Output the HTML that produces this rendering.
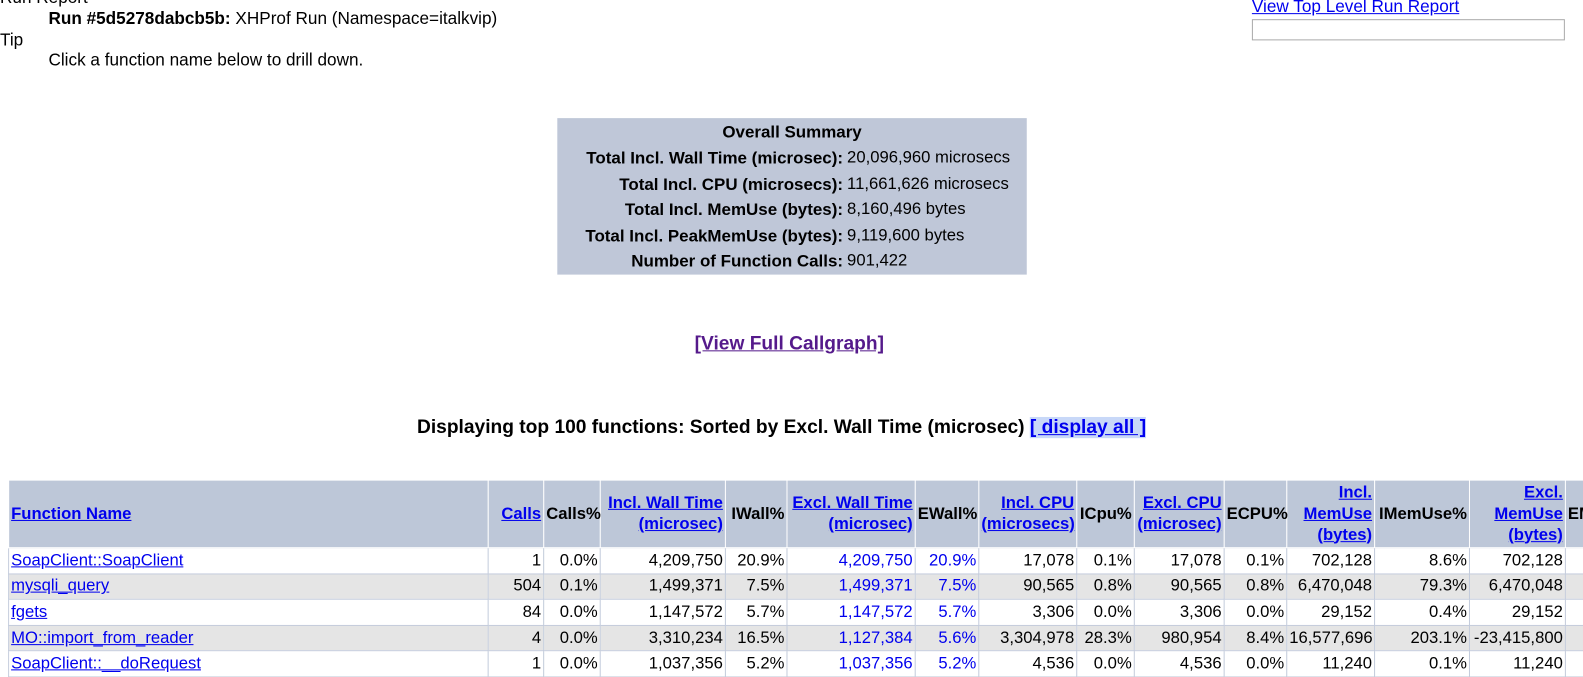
<!DOCTYPE html>
<html><head><meta charset="utf-8">
<style>
html,body{margin:0;padding:0;width:1583px;height:677px;overflow:hidden;background:#fff;}
body{font-family:"Liberation Sans",sans-serif;font-size:17px;color:#000;}
#root{position:relative;width:1568px;height:671px;overflow:hidden;transform:scale(1.0096);transform-origin:0 0;}
.a{position:absolute;white-space:nowrap;}
a{color:#0000ee;}
#sum{position:absolute;left:552px;top:117px;width:465px;height:155px;background:#bfc7d8;}
#sum .l{position:absolute;right:182px;font-weight:bold;text-align:right;white-space:nowrap;font-size:16.8px;}
#sum .v{position:absolute;left:287px;white-space:nowrap;font-size:16.5px;}
#wrap{position:absolute;left:8px;top:475px;width:1560px;height:202px;overflow:hidden;}
table{border-collapse:collapse;table-layout:fixed;font-size:16.5px;width:1602px;}
th{background:#bdc7d8;border:1px solid #fff;height:66px;padding:0 2px;font-weight:bold;line-height:21px;text-align:right;}
td{border:1px solid #c3cbdb;height:24.6px;padding:0 2px;text-align:right;white-space:nowrap;overflow:hidden;}
tr.g td{background:#e5e5e5;}
td.f,th.f{text-align:left;}
td.b{color:#0000ee;}
</style></head><body>
<div id="root">
<div class="a" style="left:0;top:-12px">Run Report</div>
<div class="a" style="left:48px;top:9px"><b>Run #5d5278dabcb5b:</b> XHProf Run (Namespace=italkvip)</div>
<div class="a" style="left:0;top:30px">Tip</div>
<div class="a" style="left:48px;top:50px">Click a function name below to drill down.</div>
<a class="a" href="#" style="left:1240px;top:-3px">View Top Level Run Report</a>
<div class="a" style="left:1240px;top:19px;width:308px;height:19px;border:1px solid #aaa;"></div>

<div id="sum">
<div class="a" style="left:0;width:100%;text-align:center;top:4px;font-weight:bold;font-size:16.8px">Overall Summary</div>
<div class="l" style="top:30px">Total Incl. Wall Time (microsec):</div><div class="v" style="top:30px">20,096,960 microsecs</div>
<div class="l" style="top:56px">Total Incl. CPU (microsecs):</div><div class="v" style="top:56px">11,661,626 microsecs</div>
<div class="l" style="top:81px">Total Incl. MemUse (bytes):</div><div class="v" style="top:81px">8,160,496 bytes</div>
<div class="l" style="top:107px">Total Incl. PeakMemUse (bytes):</div><div class="v" style="top:107px">9,119,600 bytes</div>
<div class="l" style="top:132px">Number of Function Calls:</div><div class="v" style="top:132px">901,422</div>
</div>

<a class="a" href="#" style="left:688px;top:330px;font-weight:bold;font-size:19px;color:#551a8b">[View Full Callgraph]</a>
<div class="a" style="left:413px;top:413px;font-weight:bold;font-size:19px">Displaying top 100 functions: Sorted by Excl. Wall Time (microsec) <a href="#" style="background:#c8d8f8">[ display all ]</a></div>

<div id="wrap">
<table>
<colgroup><col style="width:475px"><col style="width:55px"><col style="width:56px"><col style="width:124px"><col style="width:61px"><col style="width:127px"><col style="width:63px"><col style="width:97px"><col style="width:57px"><col style="width:89px"><col style="width:62px"><col style="width:87px"><col style="width:94px"><col style="width:95px"><col style="width:60px"></colgroup>
<tr>
<th class="f"><a href="#">Function Name</a></th>
<th><a href="#">Calls</a></th><th>Calls%</th>
<th><a href="#">Incl. Wall Time (microsec)</a></th><th>IWall%</th>
<th><a href="#">Excl. Wall Time (microsec)</a></th><th>EWall%</th>
<th><a href="#">Incl. CPU (microsecs)</a></th><th>ICpu%</th>
<th><a href="#">Excl. CPU (microsec)</a></th><th>ECPU%</th>
<th><a href="#">Incl. MemUse (bytes)</a></th><th>IMemUse%</th>
<th><a href="#">Excl. MemUse (bytes)</a></th><th class="f">EMemUse%</th>
</tr>
<tr><td class="f"><a href="#">SoapClient::SoapClient</a></td><td>1</td><td>0.0%</td><td>4,209,750</td><td>20.9%</td><td class="b">4,209,750</td><td class="b">20.9%</td><td>17,078</td><td>0.1%</td><td>17,078</td><td>0.1%</td><td>702,128</td><td>8.6%</td><td>702,128</td><td></td></tr>
<tr class="g"><td class="f"><a href="#">mysqli_query</a></td><td>504</td><td>0.1%</td><td>1,499,371</td><td>7.5%</td><td class="b">1,499,371</td><td class="b">7.5%</td><td>90,565</td><td>0.8%</td><td>90,565</td><td>0.8%</td><td>6,470,048</td><td>79.3%</td><td>6,470,048</td><td></td></tr>
<tr><td class="f"><a href="#">fgets</a></td><td>84</td><td>0.0%</td><td>1,147,572</td><td>5.7%</td><td class="b">1,147,572</td><td class="b">5.7%</td><td>3,306</td><td>0.0%</td><td>3,306</td><td>0.0%</td><td>29,152</td><td>0.4%</td><td>29,152</td><td></td></tr>
<tr class="g"><td class="f"><a href="#">MO::import_from_reader</a></td><td>4</td><td>0.0%</td><td>3,310,234</td><td>16.5%</td><td class="b">1,127,384</td><td class="b">5.6%</td><td>3,304,978</td><td>28.3%</td><td>980,954</td><td>8.4%</td><td>16,577,696</td><td>203.1%</td><td>-23,415,800</td><td></td></tr>
<tr><td class="f"><a href="#">SoapClient::__doRequest</a></td><td>1</td><td>0.0%</td><td>1,037,356</td><td>5.2%</td><td class="b">1,037,356</td><td class="b">5.2%</td><td>4,536</td><td>0.0%</td><td>4,536</td><td>0.0%</td><td>11,240</td><td>0.1%</td><td>11,240</td><td></td></tr>
</table>
</div>
</div>
</body></html>
